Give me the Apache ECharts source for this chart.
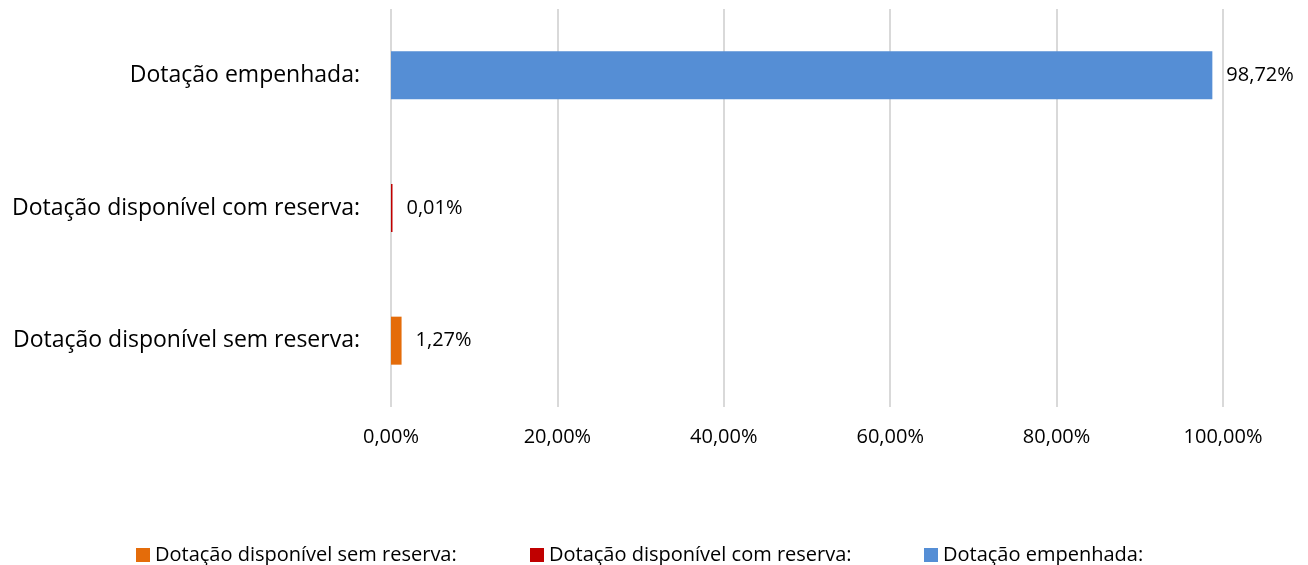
<!DOCTYPE html>
<html><head><meta charset="utf-8">
<script src="https://cdn.jsdelivr.net/npm/echarts@6/dist/echarts.min.js"></script>
<style>html,body{margin:0;padding:0;background:#fff}#c{width:1308px;height:565px}</style>
</head><body><div id="c"></div>
<script>
const categories = ['Dotação disponível sem reserva:', 'Dotação disponível com reserva:', 'Dotação empenhada:'];
const seriesNames = ['Dotação disponível sem reserva:', 'Dotação disponível com reserva:', 'Dotação empenhada:'];
const values = [1.27, 0.01, 98.72];
const colors = ['#E46C0A', '#C00000', '#558ED5'];
const ticks = [0, 20, 40, 60, 80, 100];

const FONT = 'Open Sans';
const fmt = v => v.toFixed(2).replace('.', ',') + '%';

const series = seriesNames.map((name, i) => ({
  name: name,
  type: 'bar',
  stack: 'all',
  barWidth: 48,
  barMinHeight: i === 1 ? 1.5 : 0,
  itemStyle: { color: colors[i] },
  data: categories.map((c, j) => j === i ? values[i] : '-'),
  label: {
    show: true, position: 'right', distance: 14,
    fontFamily: FONT, fontSize: 20, color: '#000',
    formatter: p => fmt(p.value)
  }
}));

const legendLefts = [131, 525, 919];
const chart = echarts.init(document.getElementById('c'));
chart.setOption({
  animation: false,
  grid: { left: 391, right: 85, top: 9, bottom: 158, containLabel: false },
  xAxis: {
    type: 'value', min: 0, max: 100, interval: ticks[1] - ticks[0],
    axisLine: { show: false }, axisTick: { show: false },
    splitLine: { show: true, lineStyle: { color: '#D9D9D9', width: 2 } },
    axisLabel: { fontFamily: FONT, fontSize: 20, color: '#000', margin: 20, formatter: v => fmt(v) }
  },
  yAxis: {
    type: 'category', data: categories,
    axisLine: { show: false }, axisTick: { show: false },
    axisLabel: { fontFamily: FONT, fontSize: 23, color: '#000', margin: 31 }
  },
  legend: seriesNames.map((n, i) => ({
    left: legendLefts[i], top: 540, itemWidth: 14, itemHeight: 14, itemGap: 5,
    icon: 'rect',
    data: [n],
    textStyle: { fontFamily: FONT, fontSize: 20, color: '#000' }
  })),
  series: series
});
</script></body></html>
